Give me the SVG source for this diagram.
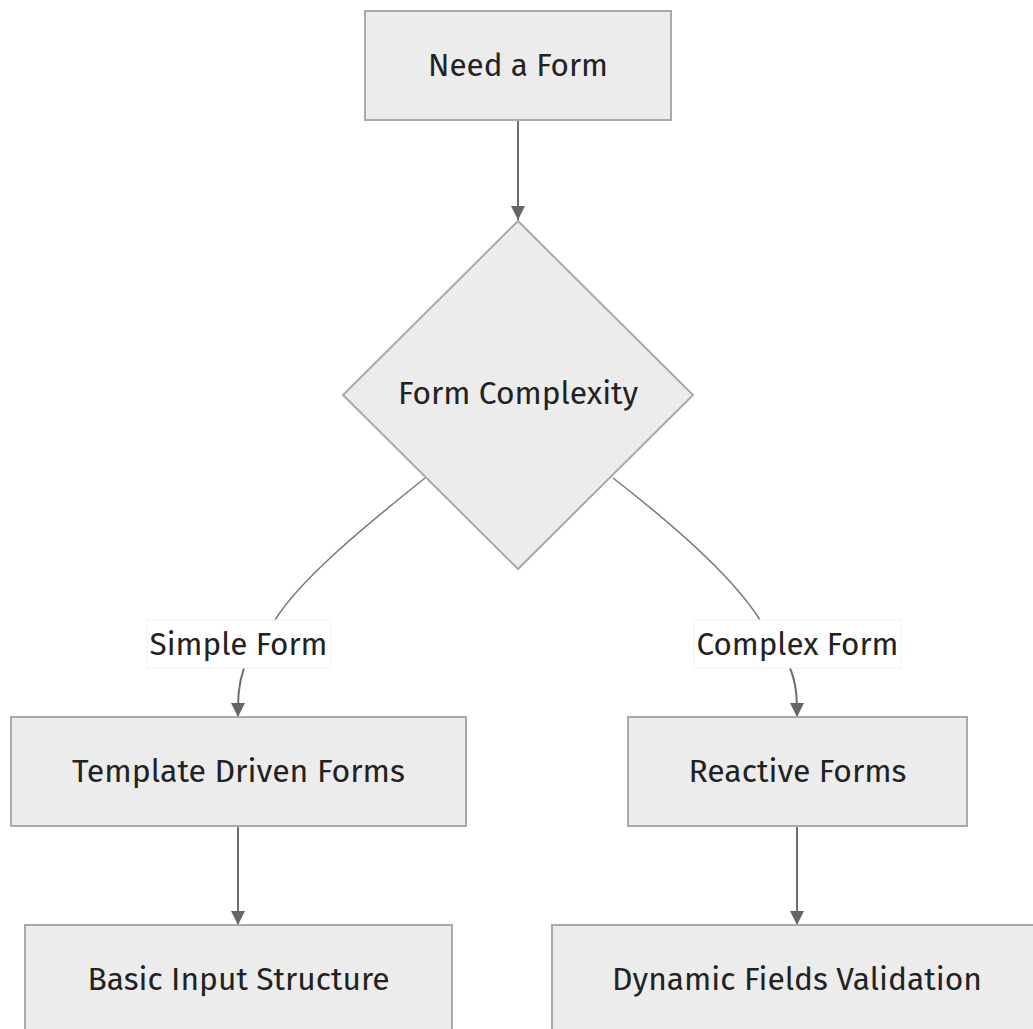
<svg xmlns="http://www.w3.org/2000/svg" width="1033" height="1029" viewBox="0 0 1033 1029">
<style>
.node{fill:#ececec;stroke:#a9a9a9;stroke-width:2}
.lbl{font-family:"Fira Sans","Open Sans","Noto Sans",sans-serif;font-size:31px;fill:#222;text-anchor:middle;dominant-baseline:central}
.edge{fill:none;stroke:#6e6e6e;stroke-width:2}
.curve{fill:none;stroke:#777;stroke-width:1.5}
.elbg{fill:#fff;stroke:#f2f2f2;stroke-width:1}
</style>
<defs>
<marker id="arr" viewBox="0 0 10 10" refX="10" refY="5" markerWidth="14" markerHeight="14" markerUnits="userSpaceOnUse" orient="auto">
<path d="M0,0 L10,5 L0,10 z" fill="#666"/>
</marker>
</defs>
<rect width="1033" height="1029" fill="#fff"/>
<g id="connectors">
<path class="edge" d="M518,120 L518,220" marker-end="url(#arr)"/>
<path class="curve" d="M425,478 C360,530 300,580 275,620"/>
<path class="edge" d="M244,668 C238,685 238,700 238,717" marker-end="url(#arr)"/>
<path class="curve" d="M613,478 C680,530 735,580 760,620"/>
<path class="edge" d="M790,668 C797,685 797,700 797,717" marker-end="url(#arr)"/>
<path class="edge" d="M238,826 L238,925" marker-end="url(#arr)"/>
<path class="edge" d="M797,826 L797,925" marker-end="url(#arr)"/>
</g>
<g id="edge-labels">
<g id="label-simple"><rect class="elbg" x="147" y="620" width="183" height="48"/><text class="lbl" x="238.5" y="644" textLength="178" lengthAdjust="spacingAndGlyphs">Simple Form</text></g>
<g id="label-complex"><rect class="elbg" x="694" y="620" width="207" height="48"/><text class="lbl" x="797.5" y="644" textLength="202" lengthAdjust="spacingAndGlyphs">Complex Form</text></g>
</g>
<g id="need-form"><rect class="node" x="365" y="11" width="306" height="109"/><text class="lbl" x="518" y="65" textLength="180" lengthAdjust="spacingAndGlyphs">Need a Form</text></g>
<g id="form-complexity"><polygon class="node" points="518,221 693,395 518,569 343,395" stroke-width="1.5"/><text class="lbl" x="518" y="393" textLength="240" lengthAdjust="spacingAndGlyphs">Form Complexity</text></g>
<g id="template-driven"><rect class="node" x="11" y="717" width="455" height="109"/><text class="lbl" x="238.5" y="771" textLength="333" lengthAdjust="spacingAndGlyphs">Template Driven Forms</text></g>
<g id="reactive"><rect class="node" x="628" y="717" width="339" height="109"/><text class="lbl" x="797.5" y="771" textLength="218" lengthAdjust="spacingAndGlyphs">Reactive Forms</text></g>
<g id="basic-input"><rect class="node" x="25" y="925" width="427" height="120"/><text class="lbl" x="238.5" y="979" textLength="302" lengthAdjust="spacingAndGlyphs">Basic Input Structure</text></g>
<g id="dynamic-fields"><rect class="node" x="552" y="925" width="500" height="120"/><text class="lbl" x="797" y="979" textLength="370" lengthAdjust="spacingAndGlyphs">Dynamic Fields Validation</text></g>
</svg>
